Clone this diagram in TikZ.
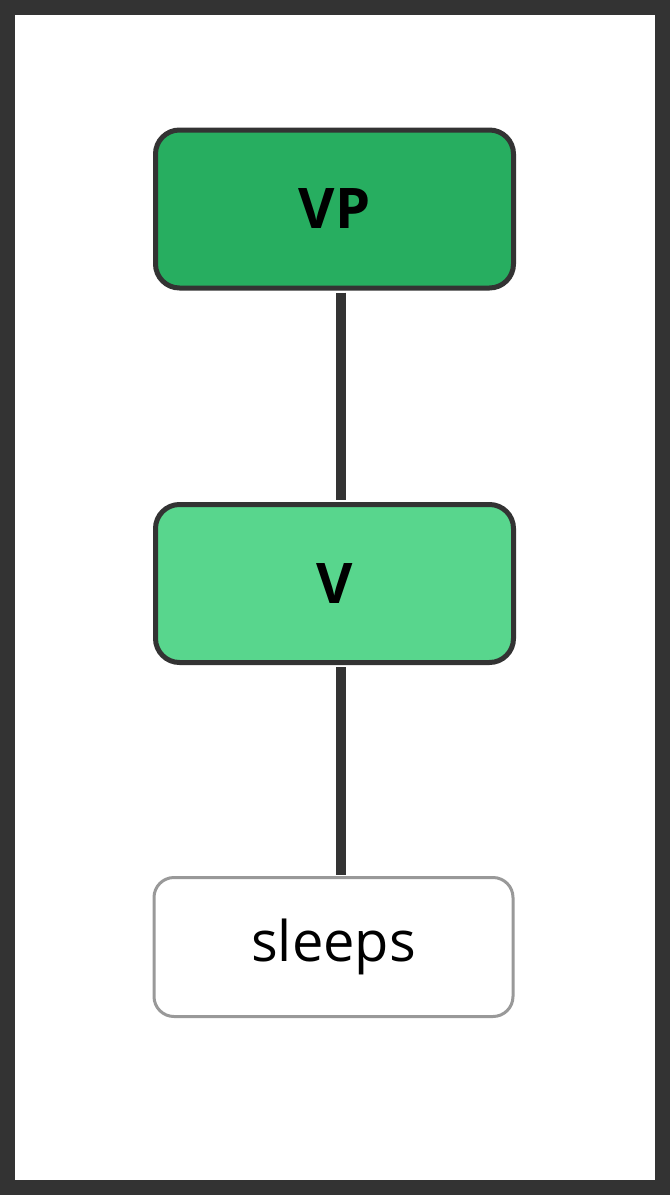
\documentclass[tikz,border=0pt]{standalone}
\usepackage{fontspec}
\setmainfont{Open Sans}
\begin{document}
\begin{tikzpicture}[x=1pt,y=-1pt,
  box/.style={draw=black!80,line width=5pt,rounded corners=24pt,minimum width=358pt,minimum height=158pt,font=\fontsize{56}{60}\selectfont\bfseries},
  leaf/.style={draw=black!40,line width=3pt,rounded corners=20pt,fill=white,minimum width=359pt,minimum height=139pt,font=\fontsize{56}{60}\selectfont},
  edge/.style={draw=black!80,line width=10pt}]
\fill[black!80] (0,0) rectangle (670,1195);
\fill[white] (15,15) rectangle (655,1180);
\useasboundingbox (0,0) rectangle (670,1195);
\node[box,fill={rgb,255:red,39;green,174;blue,96}] (vp) at (334.5,209) {VP};
\node[box,fill={rgb,255:red,88;green,214;blue,141}] (v) at (334.5,583.5) {V};
\node[leaf] (s) at (333.5,947) {sleeps};
\draw[edge] ([xshift=6.5pt,yshift=-2pt]vp.south) -- ([xshift=6.5pt,yshift=2pt]v.north);
\draw[edge] ([xshift=6.5pt,yshift=-2pt]v.south) -- ([xshift=7.5pt,yshift=1pt]s.north);
\end{tikzpicture}
\end{document}
